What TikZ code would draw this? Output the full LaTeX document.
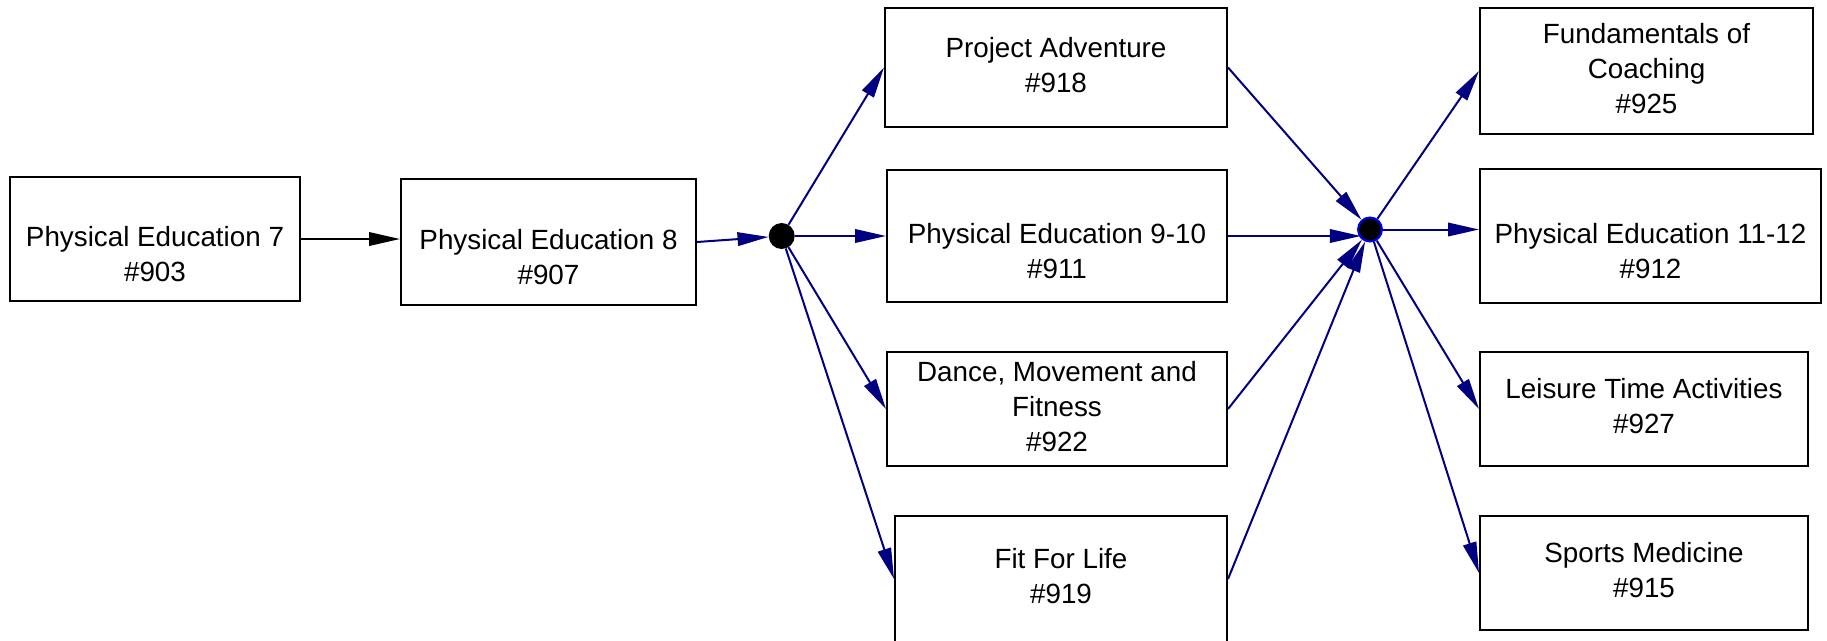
\documentclass[tikz,border=0pt]{standalone}
\usepackage{fontspec}
\setmainfont{Liberation Sans}
\usetikzlibrary{arrows.meta}
\definecolor{edgeblue}{RGB}{0,0,128}
\definecolor{ringblue}{RGB}{0,0,255}
\begin{document}
\begin{tikzpicture}[x=1pt,y=-1pt,
  box/.style={draw=black, line width=2pt, rectangle, align=center, inner sep=0pt,
    font=\fontsize{27.8}{35}\selectfont},
  hub/.style={circle, fill=black, inner sep=0pt, minimum size=26pt},
  link/.style={draw=edgeblue, line width=2pt, -{Triangle[length=31pt,width=13.5pt]}},
  blacklink/.style={draw=black, line width=2pt, -{Triangle[length=31pt,width=13.5pt]}}
]
\useasboundingbox (0,0) rectangle (1827,640);

\node[box, minimum width=290pt, minimum height=124pt] (b903) at (155,239)
  {\strut\\\strut Physical Education 7\\\strut\#903};
\node[box, minimum width=295pt, minimum height=126pt] (b907) at (548.5,242)
  {\strut\\\strut Physical Education 8\\\strut\#907};

\node[hub] (d1) at (781.7,236) {};

\node[box, minimum width=342pt, minimum height=119pt] (b918) at (1056,67.5)
  {\strut Project Adventure\\\strut\#918};
\node[box, minimum width=340pt, minimum height=132pt] (b911) at (1057,236)
  {\strut\\\strut Physical Education 9-10\\\strut\#911};
\node[box, minimum width=340pt, minimum height=114pt] (b922) at (1057,409)
  {\strut Dance, Movement and\\\strut Fitness\\\strut\#922};
\node[box, minimum width=332pt, minimum height=126pt] (b919) at (1061,579)
  {\strut Fit For Life\\\strut\#919};

\node[hub, draw=ringblue, line width=2pt, minimum size=24pt] (d2) at (1370,229.5) {};

\node[box, minimum width=333pt, minimum height=126pt] (b925) at (1646.5,71)
  {\strut Fundamentals of\\\strut Coaching\\\strut\#925};
\node[box, minimum width=341pt, minimum height=134pt] (b912) at (1650.5,236)
  {\strut\\\strut Physical Education 11-12\\\strut\#912};
\node[box, minimum width=328pt, minimum height=114pt] (b927) at (1644,409)
  {\strut Leisure Time Activities\\\strut\#927};
\node[box, minimum width=328pt, minimum height=114pt] (b915) at (1644,573)
  {\strut Sports Medicine\\\strut\#915};

\draw[blacklink] (b903.east) -- (b903.east -| b907.west);
\draw[link] (b907.east) -- (d1);

\draw[link] (d1) -- (b918.west);
\draw[link] (d1) -- (b911.west);
\draw[link] (d1) -- (b922.west);
\draw[link] (d1) -- (b919.west);

\draw[link] (b918.east) -- (d2);
\draw[link] (b911.east) -- (b911.east -| d2.south west);
\draw[link] (b922.east) -- (d2);
\draw[link] (b919.east) -- (d2);

\draw[link] (d2) -- (b925.west);
\draw[link] (d2) -- (b912.west |- d2);
\draw[link] (d2) -- (b927.west);
\draw[link] (d2) -- (b915.west);
\end{tikzpicture}
\end{document}
